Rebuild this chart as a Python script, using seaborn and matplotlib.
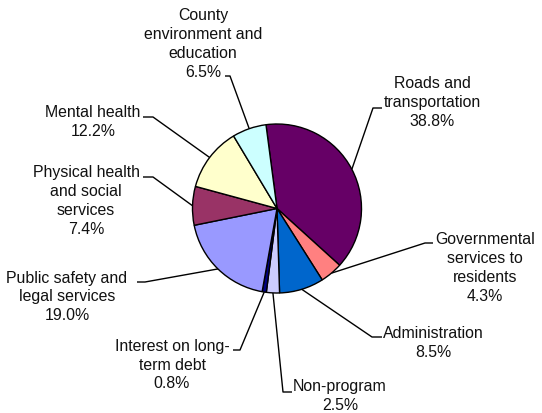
import numpy as np
import matplotlib
matplotlib.use("Agg")
import matplotlib.pyplot as plt
import seaborn as sns

# ---- data ----
categories = [
    "Roads and\ntransportation",
    "Governmental\nservices to\nresidents",
    "Administration",
    "Non-program",
    "Interest on long-\nterm debt",
    "Public safety and\nlegal services",
    "Physical health\nand social\nservices",
    "Mental health",
    "County\nenvironment and\neducation",
]
values = [38.8, 4.3, 8.5, 2.5, 0.8, 19.0, 7.4, 12.2, 6.5]
colors = ["#660066", "#FF8080", "#0066CC", "#CCCCFF", "#000080",
          "#9999FF", "#993366", "#FFFFCC", "#CCFFFF"]

# ---- layout (pixel positions in a 542x413 canvas) ----
W, H = 542, 413
CX, CY, R = 277, 208.5, 84.5
label_pos = [(432, 102.5), (485, 268), (433, 343), (340, 396), (172, 365),
             (67, 297), (86, 201), (93, 122), (203, 44)]
leader_start = [((382, 108), (373, 108)), ((433, 243), (425, 243)),
                ((382, 337), (372, 337)), ((292, 392), (283, 392)),
                ((233, 350), (240, 350)), ((137, 282), (145, 282)),
                ((143, 177), (153, 177)), ((143, 117), (153, 117)),
                ((225, 76), (230, 76))]


def px(p):
    return ((p[0] - CX) / R, (CY - p[1]) / R)


sns.set_theme(style="white")
plt.rcParams["font.family"] = ["Liberation Sans", "DejaVu Sans"]

fig = plt.figure(figsize=(W / 100, H / 100), dpi=100)
ax = fig.add_axes([0, 0, 1, 1])

wedges, _ = ax.pie(values, colors=colors, startangle=97.5, counterclock=False,
                   radius=1.0, wedgeprops=dict(edgecolor="black", linewidth=1.0))

for w, cat, val, lp, (a, b) in zip(wedges, categories, values, label_pos, leader_start):
    mid = np.deg2rad((w.theta1 + w.theta2) / 2)
    pe = (np.cos(mid), np.sin(mid))
    pa, pb = px(a), px(b)
    ax.plot([pa[0], pb[0], pe[0]], [pa[1], pb[1], pe[1]], color="black",
            lw=1.0, solid_capstyle="butt", zorder=0)
    tx, ty = px(lp)
    ax.text(tx, ty, f"{cat}\n{val:.1f}%", ha="center", va="center",
            fontsize=11.4, color="#111111", linespacing=1.32, multialignment="center")

ax.set_xlim(-CX / R, (W - CX) / R)
ax.set_ylim(-(H - CY) / R, CY / R)
ax.set_aspect("equal")
ax.axis("off")

fig.savefig("out.png", dpi=100, facecolor="white")
